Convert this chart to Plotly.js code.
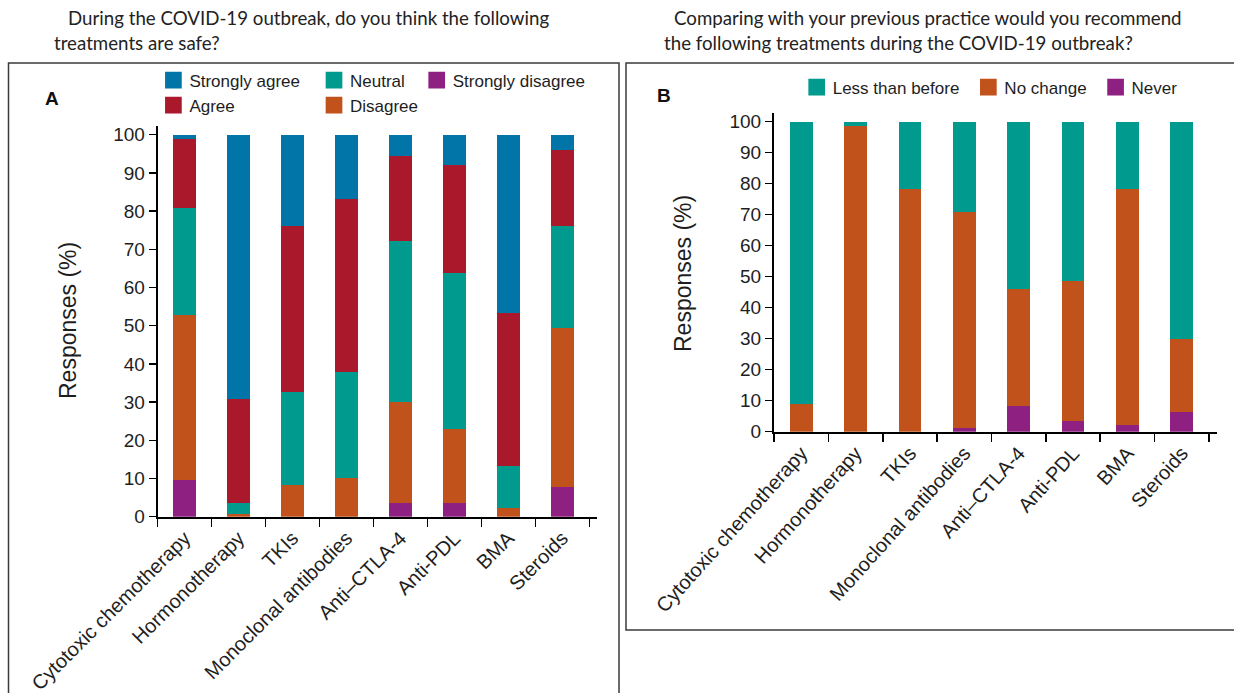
<!DOCTYPE html>
<html>
<head>
<meta charset="utf-8">
<script src="https://cdn.plot.ly/plotly-3.0.1.min.js"></script>
<style>
  html, body { margin: 0; padding: 0; background: #ffffff; }
  #chart { width: 1234px; height: 693px; }
</style>
</head>
<body>
<div id="chart"></div>
<script>
// Treatment categories shared by both panels
const treatments = [
  "Cytotoxic chemotherapy", "Hormonotherapy", "TKIs", "Monoclonal antibodies",
  "Anti–CTLA-4", "Anti-PDL", "BMA", "Steroids"
];

// Panel A: "are these treatments safe?" (% of responses, stacked bottom to top)
const stronglyDisagree = [9.6, 0, 0, 0, 3.7, 3.7, 0, 7.7];
const disagree         = [43.2, 0.6, 8.3, 10.2, 26.4, 19.2, 2.4, 41.7];
const neutral          = [28.0, 3.1, 24.3, 27.8, 42.0, 40.8, 11.0, 26.8];
const agree            = [18.1, 27.0, 43.6, 45.3, 22.4, 28.3, 40.0, 19.9];
const stronglyAgree    = [1.1, 69.3, 23.8, 16.7, 5.5, 8.0, 46.6, 3.9];

// Panel B: recommendation compared with previous practice (%)
const never          = [0, 0, 0, 1.2, 8.3, 3.5, 2.2, 6.3];
const noChange       = [8.9, 98.6, 78.2, 69.8, 37.7, 45.2, 76.0, 23.6];
const lessThanBefore = [91.1, 1.4, 21.8, 29.0, 54.0, 51.3, 21.8, 70.1];

const yTicks = [0, 10, 20, 30, 40, 50, 60, 70, 80, 90, 100];

const COLORS = {
  blue: "#0174a8", red: "#aa182c", teal: "#009a8e",
  orange: "#c2521b", purple: "#8d2081"
};

const W = 1234, H = 693;
const px = v => v / W;          // pixel -> paper x
const py = v => 1 - v / H;      // pixel -> paper y

const TXT = "#1e1e1e";
const SANS = "Liberation Sans, Arial, sans-serif";

function bar(name, y, color, xa, ya, legend, width) {
  return {
    type: "bar", name: name, x: treatments, y: y,
    xaxis: xa, yaxis: ya, legend: legend, width: width,
    marker: { color: color, line: { width: 0 } },
    hoverinfo: "x+y+name"
  };
}

const data = [
  bar("Strongly disagree", stronglyDisagree, COLORS.purple, "x", "y", "legend3", 0.43),
  bar("Disagree", disagree, COLORS.orange, "x", "y", "legend2", 0.43),
  bar("Neutral", neutral, COLORS.teal, "x", "y", "legend2", 0.43),
  bar("Agree", agree, COLORS.red, "x", "y", "legend", 0.43),
  bar("Strongly agree", stronglyAgree, COLORS.blue, "x", "y", "legend", 0.43),
  bar("Never", never, COLORS.purple, "x2", "y2", "legend4", 0.42),
  bar("No change", noChange, COLORS.orange, "x2", "y2", "legend4", 0.42),
  bar("Less than before", lessThanBefore, COLORS.teal, "x2", "y2", "legend4", 0.42)
];

function xAxis(domain, range, anchor, angle) {
  return {
    domain: domain, range: range, anchor: anchor, type: "category",
    tickson: "boundaries", ticks: "outside", ticklen: 8, tickwidth: 1.5,
    tickcolor: "#000", showline: true, linewidth: 2, linecolor: "#000",
    showgrid: false, zeroline: false, tickangle: angle,
    tickfont: { family: SANS, size: 20, color: TXT }, fixedrange: true
  };
}
function yAxis(domain, range, anchor) {
  return {
    domain: domain, range: range, anchor: anchor,
    tickvals: yTicks, ticktext: yTicks.map(String),
    ticks: "outside", ticklen: 7, tickwidth: 1.5, tickcolor: "#000",
    showline: true, linewidth: 2, linecolor: "#000",
    showgrid: false, zeroline: false,
    tickfont: { family: SANS, size: 19, color: TXT }, fixedrange: true
  };
}

function legendAt(xPx, yTopPx, orientation) {
  return {
    x: px(xPx), y: py(yTopPx), xanchor: "left", yanchor: "top",
    orientation: orientation, traceorder: "reversed",
    bgcolor: "rgba(0,0,0,0)", borderwidth: 0,
    font: { family: SANS, size: 17, color: TXT }
  };
}

const titleFont = { family: "Lato, Noto Sans, sans-serif", size: 18.7, color: "#222" };
function note(text, xPx, yPx, extra) {
  return Object.assign({
    text: text, xref: "paper", yref: "paper", x: px(xPx), y: py(yPx),
    xanchor: "left", yanchor: "middle", showarrow: false, font: titleFont
  }, extra || {});
}

const layout = {
  width: W, height: H,
  margin: { l: 0, r: 0, t: 0, b: 0 },
  paper_bgcolor: "#ffffff", plot_bgcolor: "rgba(0,0,0,0)",
  barmode: "stack", bargap: 0,
  showlegend: true,
  xaxis: xAxis([px(157.7), px(596.7)], [-0.5, 7.637], "y", -45),
  yaxis: yAxis([py(516.7), py(126)], [0, 102.28], "x"),
  xaxis2: xAxis([px(774), px(1217.3)], [-0.5, 7.653], "y2", -48),
  yaxis2: yAxis([py(431.7), py(113.3)], [0, 102.7], "x2"),
  legend: legendAt(149.4, 62.5, "v"),
  legend2: legendAt(310, 62.5, "v"),
  legend3: legendAt(412.7, 62.5, "v"),
  legend4: legendAt(792.7, 69.5, "h"),
  annotations: [
    note("During the COVID-19 outbreak, do you think the following", 66, 18),
    note("treatments are safe?", 52, 43),
    note("Comparing with your previous practice would you recommend", 672, 18),
    note("the following treatments during the COVID-19 outbreak?", 662, 43),
    note("<b>A</b>", 52, 98, { xanchor: "center", font: { family: SANS, size: 19, color: "#111" } }),
    note("<b>B</b>", 664, 96, { xanchor: "center", font: { family: SANS, size: 19, color: "#111" } }),
    note("Responses (%)", 68, 321, { xanchor: "center", textangle: -90,
      font: { family: SANS, size: 23, color: TXT } }),
    note("Responses (%)", 683, 274, { xanchor: "center", textangle: -90,
      font: { family: SANS, size: 23, color: TXT } })
  ],
  shapes: [
    { type: "rect", xref: "paper", yref: "paper",
      x0: px(8.5), x1: px(619), y0: py(63), y1: -0.05,
      line: { color: "#3a3a3a", width: 1.5 } },
    { type: "rect", xref: "paper", yref: "paper",
      x0: px(626), x1: 1.01, y0: py(63), y1: py(630),
      line: { color: "#3a3a3a", width: 1.5 } }
  ]
};

Plotly.newPlot("chart", data, layout, { displayModeBar: false, staticPlot: true })
  .then(() => {
    // slightly larger legend swatches, nudged closer to their labels
    document.querySelectorAll(".legendpoints path").forEach(p => {
      const t = p.getAttribute("transform") || "";
      p.setAttribute("transform", t + " translate(4,0) scale(1.39)");
    });
  });
</script>
</body>
</html>
